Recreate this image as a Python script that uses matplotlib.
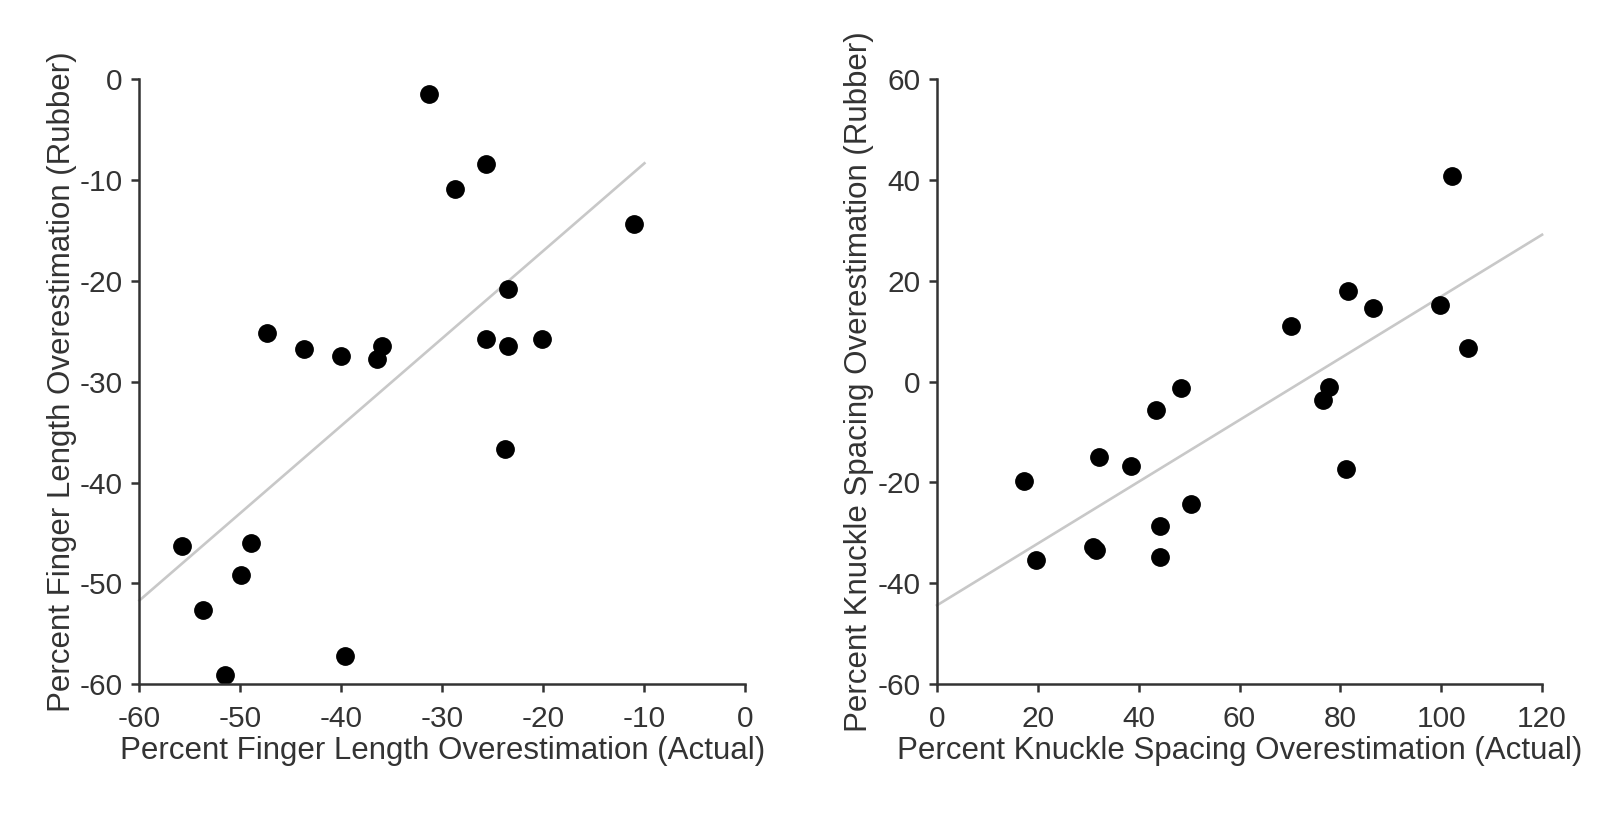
import numpy as np
import matplotlib
matplotlib.use("Agg")
import matplotlib.pyplot as plt

# Finger length: actual vs rubber hand overestimation (%)
finger_actual = [-55.8, -53.7, -51.5, -49.9, -49.0, -47.4, -43.7, -40.0, -39.6, -36.5,
                 -36.0, -31.3, -28.8, -25.7, -25.7, -23.5, -23.5, -23.8, -20.1, -11.0]
finger_rubber = [-46.3, -52.6, -59.1, -49.2, -46.0, -25.2, -26.7, -27.4, -57.2, -27.7,
                 -26.4, -1.5, -10.9, -8.4, -25.8, -20.8, -26.4, -36.7, -25.8, -14.3]

# Knuckle spacing: actual vs rubber hand overestimation (%)
knuckle_actual = [48.4, 43.5, 77.8, 76.6, 32.2, 38.4, 81.1, 17.2, 50.3, 44.2,
                  30.9, 31.5, 19.7, 44.2, 102.1, 81.5, 86.5, 99.7, 70.3, 105.3]
knuckle_rubber = [-1.3, -5.6, -1.1, -3.7, -14.9, -16.7, -17.3, -19.8, -24.2, -28.6,
                  -32.9, -33.5, -35.4, -34.9, 40.9, 17.9, 14.7, 15.2, 11.0, 6.6]

# x-range over which each fit line is drawn
finger_fit_range = [-60, -10]
knuckle_fit_range = [0, 120]

plt.rcParams['font.family'] = ['Liberation Sans', 'DejaVu Sans']
plt.rcParams['axes.unicode_minus'] = False
text_col = '#333333'
spine_col = '#333333'

fig = plt.figure(figsize=(16.1, 8.16), dpi=100)
ax1 = fig.add_axes([0.0866, 0.1614, 0.3764, 0.7414])
ax2 = fig.add_axes([0.582, 0.1618, 0.3758, 0.741])


def panel(ax, x, y, fit_range, xlim, ylim, xticks, yticks, xlabel, ylabel):
    slope, icpt = np.polyfit(x, y, 1)
    xs = np.array(fit_range, dtype=float)
    ax.plot(xs, slope * xs + icpt, color='#c8c8c8', lw=1.9, zorder=1, clip_on=False)
    ax.plot(x, y, 'o', color='black', markersize=12.5, zorder=2, clip_on=False)
    ax.set_xlim(xlim)
    ax.set_ylim(ylim)
    ax.set_xticks(xticks)
    ax.set_yticks(yticks)
    for side in ['top', 'right']:
        ax.spines[side].set_visible(False)
    for side in ['left', 'bottom']:
        ax.spines[side].set_color(spine_col)
        ax.spines[side].set_linewidth(1.8)
    ax.tick_params(direction='out', length=6, width=1.8, color=spine_col,
                   labelsize=21.5, labelcolor=text_col, pad=6)
    ax.tick_params(axis='x', pad=9)
    ax.set_xlabel(xlabel, fontsize=22.5, color=text_col, labelpad=2)
    ax.set_ylabel(ylabel, fontsize=22.5, color=text_col, labelpad=2)


panel(ax1, finger_actual, finger_rubber, finger_fit_range, (-60, 0), (-60, 0),
      range(-60, 1, 10), range(-60, 1, 10),
      'Percent Finger Length Overestimation (Actual)',
      'Percent Finger Length Overestimation (Rubber)')
panel(ax2, knuckle_actual, knuckle_rubber, knuckle_fit_range, (0, 120), (-60, 60),
      range(0, 121, 20), range(-60, 61, 20),
      'Percent Knuckle Spacing Overestimation (Actual)',
      'Percent Knuckle Spacing Overestimation (Rubber)')

fig.savefig('out.png', dpi=100)
